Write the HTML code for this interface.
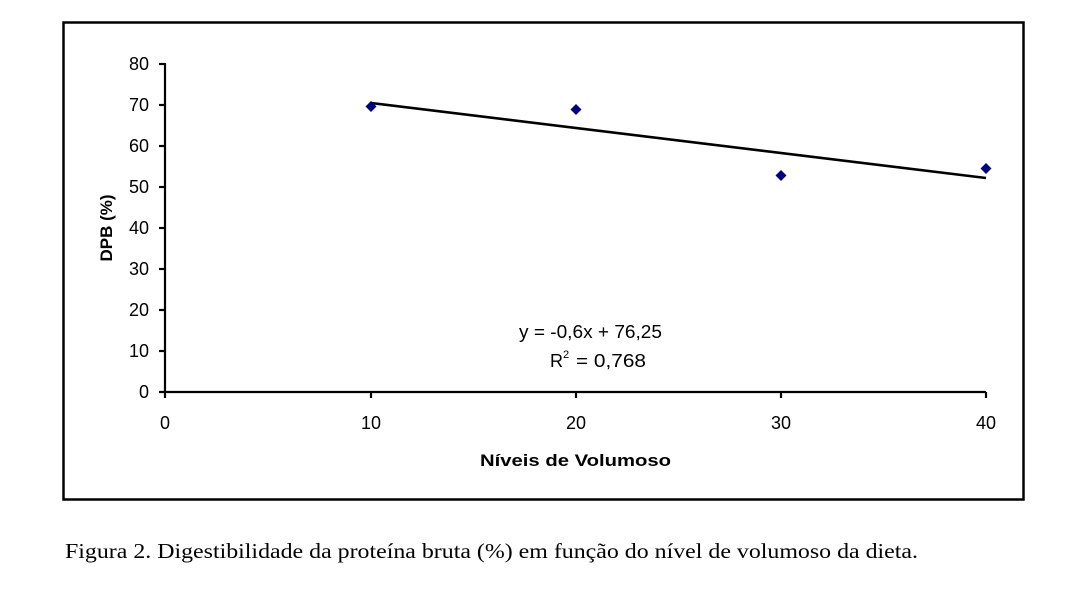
<!DOCTYPE html>
<html><head><meta charset="utf-8"><style>
body{margin:0;background:#fff;width:1067px;height:587px;overflow:hidden}
</style></head><body>
<svg width="1067" height="587" xmlns="http://www.w3.org/2000/svg" font-family="Liberation Sans, sans-serif">
<rect x="63.5" y="22.5" width="960" height="477" fill="none" stroke="#000" stroke-width="2.5"/>
<g stroke="#000" stroke-width="2.2">
<line x1="165" y1="63" x2="165" y2="393"/>
<line x1="159" y1="392" x2="986" y2="392"/>
<line x1="159" y1="64" x2="165" y2="64"/><line x1="159" y1="105" x2="165" y2="105"/>
<line x1="159" y1="146" x2="165" y2="146"/><line x1="159" y1="187" x2="165" y2="187"/>
<line x1="159" y1="228" x2="165" y2="228"/><line x1="159" y1="269" x2="165" y2="269"/>
<line x1="159" y1="310" x2="165" y2="310"/><line x1="159" y1="351" x2="165" y2="351"/>
<line x1="165" y1="392" x2="165" y2="398"/><line x1="371" y1="392" x2="371" y2="398"/>
<line x1="576" y1="392" x2="576" y2="398"/><line x1="781" y1="392" x2="781" y2="398"/>
<line x1="986" y1="392" x2="986" y2="398"/>
<line x1="371" y1="103" x2="986" y2="178" stroke-width="2.6"/>
</g>
<g font-size="18" text-anchor="end" fill="#000">
<text x="149" y="70">80</text><text x="149" y="111">70</text><text x="149" y="152">60</text>
<text x="149" y="193">50</text><text x="149" y="234">40</text><text x="149" y="275">30</text>
<text x="149" y="316">20</text><text x="149" y="357">10</text><text x="149" y="398">0</text>
</g>
<g font-size="18" text-anchor="middle" fill="#000">
<text x="165" y="429">0</text><text x="371" y="429">10</text><text x="576" y="429">20</text>
<text x="781" y="429">30</text><text x="986" y="429">40</text>
</g>
<text x="480" y="466" font-size="17" font-weight="bold" textLength="191" lengthAdjust="spacingAndGlyphs">Níveis de Volumoso</text>
<text x="519" y="338" font-size="18" textLength="143" lengthAdjust="spacingAndGlyphs">y = -0,6x + 76,25</text>
<text x="550" y="367" font-size="18">R</text>
<text x="563" y="358" font-size="11">2</text>
<text x="576" y="367" font-size="18" textLength="70" lengthAdjust="spacingAndGlyphs">= 0,768</text>
<text transform="translate(112,228) rotate(-90)" font-size="17" font-weight="bold" text-anchor="middle">DPB (%)</text>
<g fill="#000080">
<path d="M371 101 l5.5 5.5 l-5.5 5.5 l-5.5 -5.5z"/>
<path d="M576 104 l5.5 5.5 l-5.5 5.5 l-5.5 -5.5z"/>
<path d="M781 170 l5.5 5.5 l-5.5 5.5 l-5.5 -5.5z"/>
<path d="M986 163 l5.5 5.5 l-5.5 5.5 l-5.5 -5.5z"/>
</g>
<text x="65" y="558" font-family="Liberation Serif, serif" font-size="21" textLength="853" lengthAdjust="spacingAndGlyphs">Figura 2. Digestibilidade da proteína bruta (%) em função do nível de volumoso da dieta.</text>
</svg>
</body></html>
